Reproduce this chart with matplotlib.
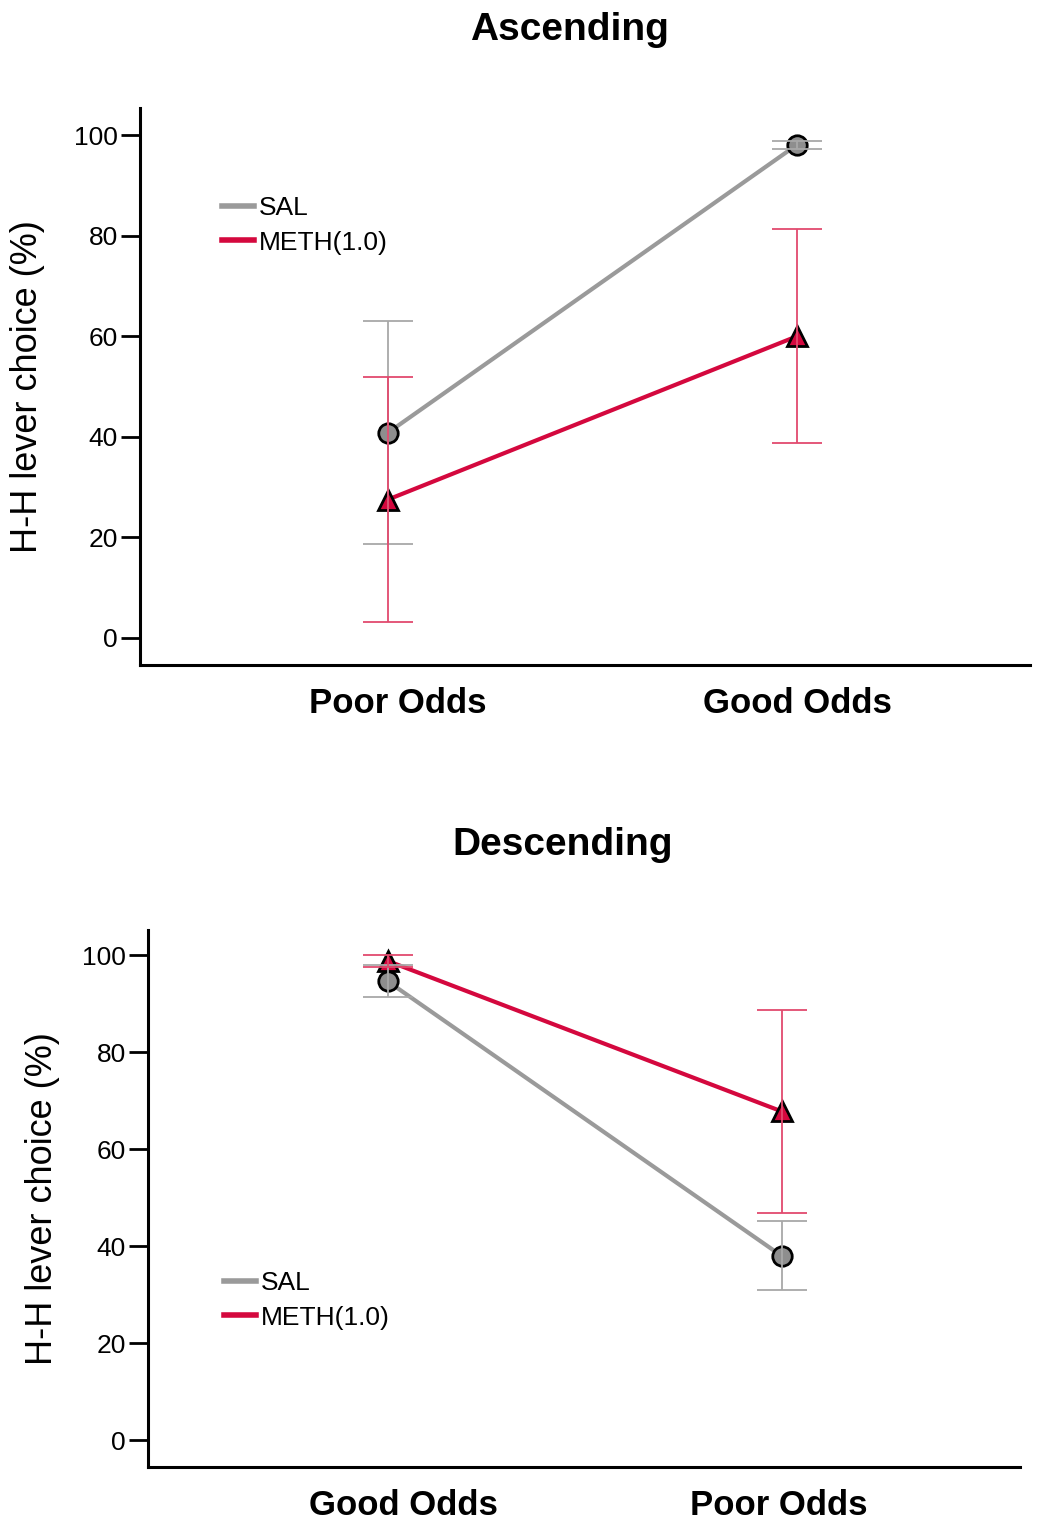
import numpy as np
import matplotlib.pyplot as plt
import matplotlib.transforms as mtransforms

plt.rcParams['font.family'] = ['Liberation Sans', 'DejaVu Sans']

# Ascending schedule
asc_labels = ['Poor Odds', 'Good Odds']
asc_sal = [40.8, 98.1]
asc_sal_err = [22.2, 0.8]
asc_meth = [27.5, 60.0]
asc_meth_err = [24.3, 21.3]

# Descending schedule
desc_labels = ['Good Odds', 'Poor Odds']
desc_sal = [94.6, 38.0]
desc_sal_err = [3.3, 7.1]
desc_meth = [98.8, 67.8]
desc_meth_err = [1.2, 21.0]

sal_line = '#9a9a9a'
sal_err = '#a8a8a8'
sal_face = '#8e8e8e'
meth_line = '#d4083e'
meth_err = '#e24a6e'

fig = plt.figure(figsize=(10.45, 15.23), dpi=100)
ax1 = fig.add_axes([0.134, 0.5634, 0.852, 0.3657])
ax2 = fig.add_axes([0.1416, 0.0368, 0.834, 0.3526])


def panel(ax, labels, sal, salerr, meth, metherr, xlim, ylim, title, title_xy,
          leg_xy, ylab_x, label_shift):
    x = np.arange(len(labels))
    ax.plot(x, sal, color=sal_line, lw=3, marker='o', ms=14, mfc=sal_face,
            mec='black', mew=2, zorder=3, label='SAL')
    ax.plot(x, meth, color=meth_line, lw=3, marker='^', ms=14, mfc=meth_line,
            mec='black', mew=2, zorder=3, label='METH(1.0)')
    ax.errorbar(x, sal, yerr=salerr, fmt='none', ecolor=sal_err, elinewidth=1.3,
                capsize=18, capthick=1.3, zorder=4)
    ax.errorbar(x, meth, yerr=metherr, fmt='none', ecolor=meth_err, elinewidth=1.3,
                capsize=18, capthick=1.3, zorder=4)

    ax.set_xlim(*xlim)
    ax.set_ylim(*ylim)
    ax.set_yticks([0, 20, 40, 60, 80, 100])
    ax.set_xticks(x)
    ax.set_xticklabels(labels, fontsize=25, fontweight='bold')
    ax.tick_params(axis='x', length=0, pad=16)
    ax.tick_params(axis='y', labelsize=19, length=14, width=2, pad=2)
    # nudge category labels sideways a little
    for lab, dx in zip(ax.get_xticklabels(), label_shift):
        lab.set_transform(lab.get_transform() +
                          mtransforms.ScaledTranslation(dx / 100, 0, fig.dpi_scale_trans))
    for s in ['top', 'right']:
        ax.spines[s].set_visible(False)
    for s in ['left', 'bottom']:
        ax.spines[s].set_linewidth(2.2)

    ax.set_ylabel('H-H lever choice (%)', fontsize=26)
    ax.yaxis.set_label_coords(ylab_x, 0.5)

    fig.text(title_xy[0], title_xy[1], title, ha='center', va='center',
             fontsize=28, fontweight='bold')

    leg = ax.legend(loc='upper left', bbox_to_anchor=leg_xy,
                    bbox_transform=fig.transFigure, frameon=False,
                    fontsize=19, handlelength=1.2, handletextpad=0.2,
                    labelspacing=0.4, borderpad=0, borderaxespad=0)
    for h in leg.legend_handles:
        h.set_marker('')
        h.set_linewidth(4)


panel(ax1, asc_labels, asc_sal, asc_sal_err, asc_meth, asc_meth_err,
      (-0.606, 1.57), (-5.4, 105.4), 'Ascending', (569 / 1045, 1 - 30 / 1523),
      (222 / 1045, 1 - 196 / 1523), -0.107, [10, 0])
panel(ax2, desc_labels, desc_sal, desc_sal_err, desc_meth, desc_meth_err,
      (-0.609, 1.604), (-5.5, 105.2), 'Descending', (563 / 1045, 1 - 845 / 1523),
      (224 / 1045, 1 - 1271 / 1523), -0.101, [16, -3])

fig.savefig('out.png', dpi=100)
